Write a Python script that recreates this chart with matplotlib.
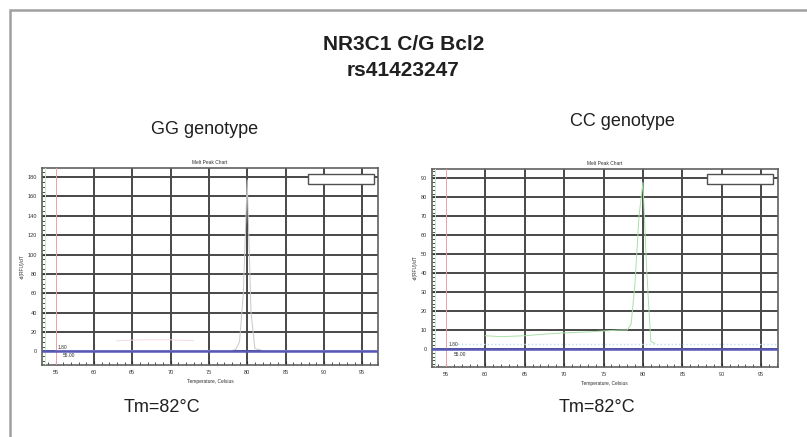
import matplotlib
matplotlib.use("Agg")
import matplotlib.pyplot as plt
from matplotlib.patches import Rectangle
from matplotlib.ticker import MultipleLocator

plt.rcParams['font.family'] = ['Liberation Sans', 'DejaVu Sans']

# ---- data ----
main_title = ["NR3C1 C/G Bcl2", "rs41423247"]
panel_titles = ["GG genotype", "CC genotype"]
tm_labels = ["Tm=82°C", "Tm=82°C"]
chart_title = "Melt Peak Chart"
x_label = "Temperature, Celsius"
y_label = "-d(RFU)/dT"
x_ticks = [55, 60, 65, 70, 75, 80, 85, 90, 95]

# GG genotype melt peak (grey) curve
gg_temp = [55, 60, 65, 70, 75, 78, 78.5, 79, 79.5, 80, 80.5, 81, 82, 85, 90, 95, 97]
gg_vals = [1, 1, 1, 1, 1, 1, 2, 10, 60, 177, 40, 3, 1, 1, 1, 1, 1]
# GG faint pink trace
gg_pink_temp = [63, 66, 70, 73]
gg_pink_vals = [11, 12, 12, 11]

# CC genotype melt peak (green) curve
cc_temp = [60, 62, 65, 68, 70, 73, 75, 77, 78, 78.5, 79, 79.5, 80, 80.5, 81, 81.5]
cc_vals = [7, 6.5, 7, 8, 8.5, 9, 9.5, 10, 10, 13, 35, 70, 88, 40, 4, 3]
# CC light blue trace
cc_blue_temp = [56, 60, 65, 70, 75, 80, 85, 90, 95, 97]
cc_blue_vals = [2.5, 2.5, 2.5, 2.5, 2.5, 2.5, 2.5, 2.5, 2.5, 2.5]

threshold = 0
red_line_temp = 55
ylims = [(-14, 189), (-9.5, 95)]
ymajor = [20, 10]
yminor = [5, 2]

# ---- figure ----
fig = plt.figure(figsize=(8.07, 4.37), dpi=100)
fig.patch.set_facecolor('white')

# outer frame
fig.add_artist(Rectangle((9.5/807, -0.05), 1.2, (437-10)/437 + 0.05,
                         transform=fig.transFigure, fill=False,
                         edgecolor='#a0a0a0', linewidth=1.8))

fig.text(0.5, 1 - 44/437, main_title[0], ha='center', va='center',
         fontsize=15, fontweight='bold', color='#202020')
fig.text(0.5, 1 - 70/437, main_title[1], ha='center', va='center',
         fontsize=15, fontweight='bold', color='#202020')

axes_rects = [
    (41.7/807, 1 - 365/437, 336.6/807, 196.7/437),
    (431.7/807, 1 - 367/437, 346/807, 198/437),
]
panel_pos = [(205/807, 1 - 129/437), (622/807, 1 - 122/437)]
tm_pos = [(162/807, 1 - 408/437), (597/807, 1 - 408/437)]
legend_boxes = [(308, 174, 374, 184), (707, 174, 773, 184)]

for i in range(2):
    ax = fig.add_axes(axes_rects[i])
    ax.set_xlim(53.2, 97.1)
    ax.set_ylim(*ylims[i])
    ax.xaxis.set_major_locator(MultipleLocator(5))
    ax.xaxis.set_minor_locator(MultipleLocator(1))
    ax.yaxis.set_major_locator(MultipleLocator(ymajor[i]))
    ax.yaxis.set_minor_locator(MultipleLocator(yminor[i]))
    ax.set_xticks(x_ticks)
    ax.grid(True, which='major', color='#484848', linewidth=1.4)
    # no dark grid line under the red marker line at 55
    ax.get_xgridlines()[0].set_visible(False)
    ax.tick_params(which='both', direction='in', labelsize=4, colors='#303030',
                   top=False, right=False)
    ax.tick_params(which='major', length=3)
    ax.tick_params(which='minor', length=2)
    for s in ax.spines.values():
        s.set_color('#606060')
        s.set_linewidth(1.2)
    ax.set_title(chart_title, fontsize=3.5, pad=3, color='#303030')
    ax.set_xlabel(x_label, fontsize=3.5, labelpad=3, color='#303030')
    ax.set_ylabel(y_label, fontsize=3.5, labelpad=2, color='#303030')

    ax.axvline(red_line_temp, color='#f0a0a8', linewidth=0.7, zorder=3)
    ax.axvline(53.6, color='#c8ecc8', linewidth=0.7, zorder=3)
    ax.axhline(threshold, color='#5858b8', linewidth=1.8, zorder=4)
    ax.text(55.3, 2.5 if i == 0 else 1.5, "1.80", fontsize=3.5, color='#303030',
            zorder=5)
    ax.text(56.0, -2 if i == 0 else -1.5, "55.00", fontsize=3.5, color='#303030',
            va='top', zorder=5)

    if i == 0:
        ax.plot(gg_temp, gg_vals, color='#c8c8c8', linewidth=0.7, zorder=3)
        ax.plot(gg_pink_temp, gg_pink_vals, color='#f6d8e2', linewidth=0.7, zorder=3)
    else:
        ax.plot(cc_blue_temp, cc_blue_vals, color='#b8e0f4', linewidth=1.0,
                linestyle=':', zorder=3)
        ax.plot(cc_temp, cc_vals, color='#a8e0a8', linewidth=0.7, zorder=3)

    # empty legend box
    x0, y0, x1, y1 = legend_boxes[i]
    fig.add_artist(Rectangle((x0/807, 1 - y1/437), (x1 - x0)/807, (y1 - y0)/437,
                             transform=fig.transFigure, facecolor='white',
                             edgecolor='#505050', linewidth=1.0, zorder=10))

    fig.text(panel_pos[i][0], panel_pos[i][1], panel_titles[i], ha='center',
             va='center', fontsize=13, color='#202020')
    fig.text(tm_pos[i][0], tm_pos[i][1], tm_labels[i], ha='center',
             va='center', fontsize=13, color='#202020')

fig.savefig("out.png", dpi=100, facecolor='white')
